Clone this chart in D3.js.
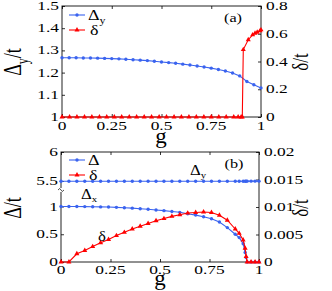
<!DOCTYPE html>
<html>
<head>
<meta charset="utf-8">
<script src="https://cdn.jsdelivr.net/npm/d3@7"></script>
<style>
  body { margin: 0; background: #fff; }
  svg { display: block; }
  text { font-family: "Liberation Serif", "Times New Roman", serif; fill: #000; }
</style>
</head>
<body>
<svg id="chart" width="332" height="291"></svg>
<script>
// ---- data ----
// panel (a)
const gA_blue = [0, 0.036, 0.071, 0.107, 0.143, 0.179, 0.214, 0.25, 0.286, 0.321, 0.357, 0.393, 0.429, 0.464, 0.5,
                 0.536, 0.571, 0.607, 0.643, 0.679, 0.714, 0.75, 0.786, 0.821, 0.857, 0.893, 0.929, 0.964, 1];
const deltaY_a = [1.267, 1.267, 1.267, 1.266, 1.266, 1.265, 1.264, 1.263, 1.262, 1.26, 1.258, 1.256, 1.254, 1.251, 1.248,
                  1.245, 1.242, 1.238, 1.234, 1.23, 1.225, 1.22, 1.214, 1.207, 1.198, 1.185, 1.16, 1.145, 1.131];
const gA_red = [0, 0.038, 0.075, 0.113, 0.15, 0.188, 0.225, 0.263, 0.3, 0.338, 0.375, 0.413, 0.45, 0.488, 0.525,
                0.563, 0.6, 0.638, 0.675, 0.713, 0.75, 0.788, 0.825, 0.863, 0.885, 0.9, 0.906, 0.911, 0.936, 0.958,
                0.97, 0.981, 0.995, 1];
const smallDelta_a = [0, 0, 0, 0, 0, 0, 0, 0, 0, 0, 0, 0, 0, 0, 0,
                      0, 0, 0, 0, 0, 0, 0, 0, 0, 0, 0, 0, 0.486, 0.557, 0.592,
                      0.604, 0.611, 0.621, 0.628];

// panel (b)
const gB = [0, 0.04, 0.08, 0.12, 0.16, 0.2, 0.24, 0.28, 0.32, 0.36, 0.4, 0.44, 0.48, 0.52, 0.56, 0.6, 0.64, 0.68,
            0.72, 0.76, 0.8, 0.84, 0.88, 0.9, 0.92, 0.93, 0.935, 0.94, 0.96, 0.98, 1];
const delta_b = [5.45, 5.45, 5.45, 5.45, 5.45, 5.45, 5.45, 5.45, 5.45, 5.45, 5.45, 5.45, 5.45, 5.45, 5.45, 5.45, 5.45, 5.45,
                 5.45, 5.45, 5.45, 5.45, 5.452, 5.455, 5.46, 5.465, 5.468, 5.47, 5.475, 5.472, 5.47];
const deltaX_b = [1, 1, 1, 0.998, 0.996, 0.993, 0.99, 0.985, 0.978, 0.97, 0.96, 0.95, 0.937, 0.925, 0.91, 0.895, 0.87, 0.845,
                  0.815, 0.78, 0.72, 0.62, 0.5, 0.44, 0.33, 0.17, 0.08, 0, 0, 0, 0];
const smallDelta_b = [0, 0, 0.0015, 0.0021, 0.0028, 0.0035, 0.0041, 0.0048, 0.0054, 0.006, 0.0065, 0.007, 0.0075, 0.0079,
                      0.0083, 0.0086, 0.0089, 0.009, 0.0091, 0.009, 0.0085, 0.0076, 0.006, 0.0052, 0.004, 0.0025, 0.001,
                      0, 0, 0, 0];

// tick labels
const gTicks = [0, 0.25, 0.5, 0.75, 1];
const gTickLabels = ["0", "0.25", "0.5", "0.75", "1"];
const yA_left = [1, 1.1, 1.2, 1.3, 1.4, 1.5];
const yA_leftLabels = ["1", "1.1", "1.2", "1.3", "1.4", "1.5"];
const yA_right = [0, 0.2, 0.4, 0.6, 0.8];
const yA_rightLabels = ["0", "0.2", "0.4", "0.6", "0.8"];
const yB_left = [0, 0.5, 1, 5.5, 6];
const yB_leftLabels = ["0", "0.5", "1", "5.5", "6"];
const yB_right = [0, 0.005, 0.01, 0.015, 0.02];
const yB_rightLabels = ["0", "0.005", "0.01", "0.015", "0.02"];

const BLUE = "#3a63ef", RED = "#ff0000";
const SX = 1.45; // the figure is stretched sideways

const svg = d3.select("#chart");

function txt(parent, x, y, s, size, anchor, sx) {
  return parent.append("text")
    .attr("transform", `translate(${x},${y}) scale(${sx || SX},1)`)
    .attr("text-anchor", anchor || "middle")
    .style("font-size", size + "px")
    .text(s);
}

function styleAxis(sel) {
  sel.select(".domain").remove();
  sel.selectAll("line").attr("stroke", "#000").attr("stroke-width", 0.8);
  sel.selectAll("text").remove();
}

function panel(box, x, yL, yR, ticksL, labelsL, ticksR, labelsR, xLabY) {
  const g = svg.append("g");
  // frame
  g.append("rect").attr("x", box.l).attr("y", box.t).attr("width", box.r - box.l).attr("height", box.b - box.t)
    .attr("fill", "none").attr("stroke", "#222").attr("stroke-width", 1);

  g.append("g").attr("transform", `translate(0,${box.b})`)
    .call(d3.axisBottom(x).tickValues(gTicks).tickSize(-3)).call(styleAxis);
  g.append("g").attr("transform", `translate(0,${box.t})`)
    .call(d3.axisTop(x).tickValues(gTicks).tickSize(-3)).call(styleAxis);
  g.append("g").attr("transform", `translate(${box.l},0)`)
    .call(d3.axisLeft(yL).tickValues(ticksL).tickSize(-3)).call(styleAxis);
  g.append("g").attr("transform", `translate(${box.r},0)`)
    .call(d3.axisRight(yR).tickValues(ticksR).tickSize(-3)).call(styleAxis);

  gTicks.forEach((v, i) => txt(g, x(v), box.b + xLabY, gTickLabels[i], 12).attr("dominant-baseline", "central"));
  ticksL.forEach((v, i) => txt(g, box.l - 3, yL(v), labelsL[i], 12, "end").attr("dominant-baseline", "central"));
  ticksR.forEach((v, i) => txt(g, box.r + 5, yR(v), labelsR[i], 12, "start").attr("dominant-baseline", "central"));
  return g;
}

function series(g, x, y, gs, vs, color, marker) {
  const pts = gs.map((d, i) => [x(d), y(vs[i])]);
  g.append("path").attr("d", d3.line()(pts)).attr("fill", "none").attr("stroke", color).attr("stroke-width", 1.1);
  const sym = marker === "tri" ? d3.symbol().type(d3.symbolTriangle).size(11) : d3.symbol().type(d3.symbolCircle).size(9);
  g.selectAll(null).data(pts).enter().append("path")
    .attr("transform", d => `translate(${d[0]},${d[1]})`)
    .attr("d", sym).attr("fill", color);
}

function legendItem(g, x, y, color, marker) {
  g.append("line").attr("x1", x).attr("x2", x + 16).attr("y1", y).attr("y2", y).attr("stroke", color).attr("stroke-width", 1.1);
  const sym = marker === "tri" ? d3.symbol().type(d3.symbolTriangle).size(11) : d3.symbol().type(d3.symbolCircle).size(9);
  g.append("path").attr("transform", `translate(${x + 8},${y})`).attr("d", sym).attr("fill", color);
}

// ---- panel (a) ----
const boxA = {l: 62, r: 261, t: 6, b: 117};
const xA = d3.scaleLinear().domain([0, 1]).range([boxA.l, boxA.r]);
const yAL = d3.scaleLinear().domain([1, 1.5]).range([boxA.b, boxA.t]);
const yAR = d3.scaleLinear().domain([0, 0.8]).range([boxA.b, boxA.t]);
const gA = panel(boxA, xA, yAL, yAR, yA_left, yA_leftLabels, yA_right, yA_rightLabels, 9);
series(gA, xA, yAL, gA_blue, deltaY_a, BLUE, "circle");
series(gA, xA, yAR, gA_red, smallDelta_a, RED, "tri");

legendItem(gA, 69, 15, BLUE, "circle");
legendItem(gA, 69, 30, RED, "tri");
const lgA = txt(gA, 88, 20, "Δ", 15, "start", 1.2);
lgA.append("tspan").attr("dy", 4).style("font-size", "10px").text("y");
txt(gA, 90, 35, "δ", 15, "start", 1.2);
txt(gA, 233, 22, "(a)", 13, "middle", 1.25);

// axis titles (a)
const tA = svg.append("text").attr("transform", "translate(21,62) rotate(-90) scale(1,1.35)")
  .attr("text-anchor", "middle").style("font-size", "18px").text("Δ");
tA.append("tspan").attr("dy", 5).style("font-size", "12px").text("y");
tA.append("tspan").attr("dy", -5).text("/t");
svg.append("text").attr("transform", "translate(308,62) rotate(-90) scale(1,1.35)")
  .attr("text-anchor", "middle").style("font-size", "17px").text("δ/t");
txt(svg, 161, 143, "g", 20, "middle", 1.15);

// ---- panel (b) ----
const boxB = {l: 61, r: 259, t: 152, b: 262};
const xB = d3.scaleLinear().domain([0, 1]).range([boxB.l, boxB.r]);
// broken left axis: lower part 0..1, upper part 5.5..6
const yBL = d3.scaleLinear().domain([0, 1, 5.5, 6]).range([262, 206.5, 181, 152]);
const yBR = d3.scaleLinear().domain([0, 0.02]).range([boxB.b, boxB.t]);
const gBp = panel(boxB, xB, yBL, yBR, yB_left, yB_leftLabels, yB_right, yB_rightLabels, 8);
series(gBp, xB, yBL, gB, delta_b, BLUE, "circle");
series(gBp, xB, yBL, gB, deltaX_b, BLUE, "circle");
series(gBp, xB, yBR, gB, smallDelta_b, RED, "tri");

// axis break mark
gBp.append("rect").attr("x", boxB.l - 2).attr("y", 188).attr("width", 4).attr("height", 4).attr("fill", "#fff");
gBp.append("path").attr("d", `M${boxB.l - 3},190 q2,-3 3,0 t3,0`).attr("fill", "none").attr("stroke", "#222").attr("stroke-width", 0.8);

legendItem(gBp, 69, 160, BLUE, "circle");
legendItem(gBp, 69, 175, RED, "tri");
txt(gBp, 88, 165, "Δ", 15, "start", 1.2);
txt(gBp, 89, 180, "δ", 15, "start", 1.2);
txt(gBp, 234, 168, "(b)", 13, "middle", 1.25);

const ax = txt(gBp, 81, 199, "Δ", 14, "start", 1.2);
ax.append("tspan").attr("dy", 3).style("font-size", "9px").text("x");
const ay = txt(gBp, 190, 175, "Δ", 14, "start", 1.2);
ay.append("tspan").attr("dy", 3).style("font-size", "9px").text("y");
txt(gBp, 98, 241, "δ", 14, "start", 1.2);

svg.append("text").attr("transform", "translate(21,208) rotate(-90) scale(1,1.35)")
  .attr("text-anchor", "middle").style("font-size", "18px").text("Δ/t");
svg.append("text").attr("transform", "translate(308,208) rotate(-90) scale(1,1.35)")
  .attr("text-anchor", "middle").style("font-size", "17px").text("δ/t");
txt(svg, 160, 285, "g", 20, "middle", 1.15);
</script>
</body>
</html>
